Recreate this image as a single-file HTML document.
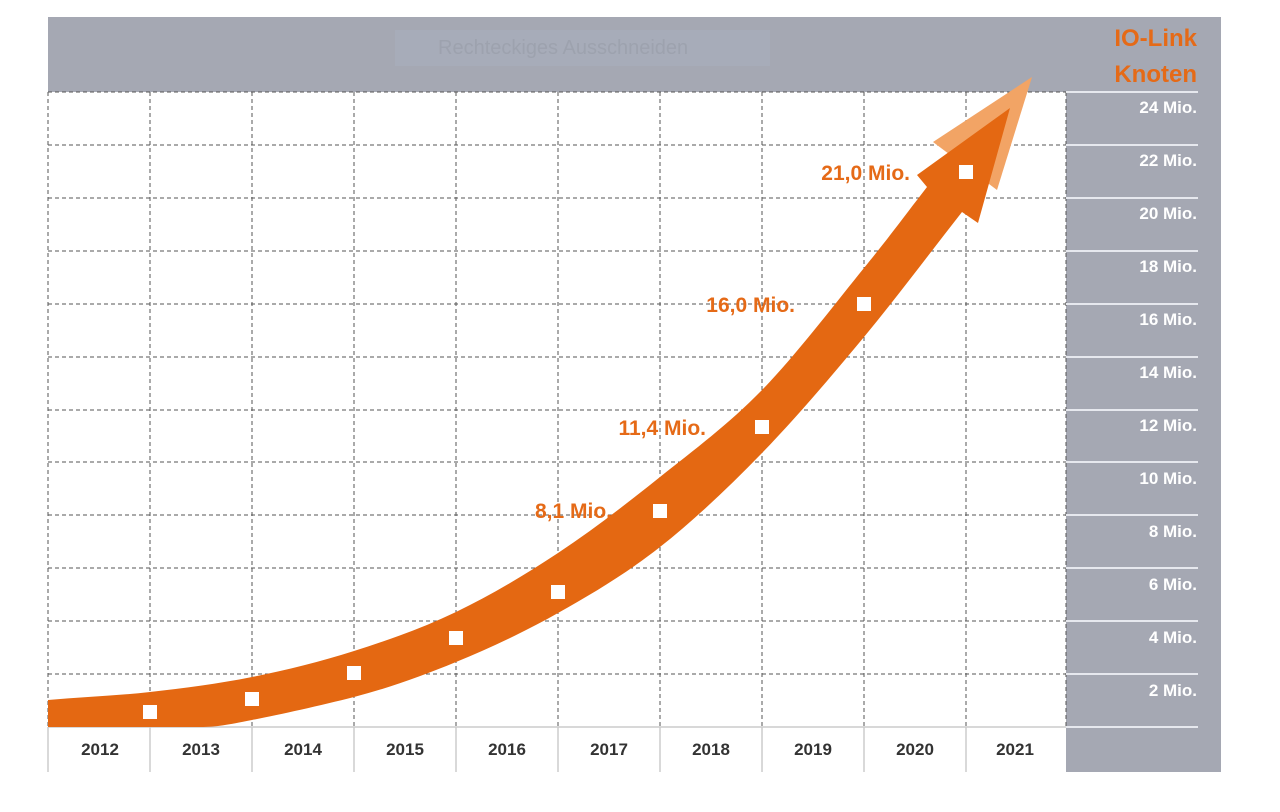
<!DOCTYPE html>
<html><head><meta charset="utf-8"><style>
body{margin:0;background:#fff;width:1280px;height:807px;overflow:hidden;font-family:"Liberation Sans",sans-serif}
</style></head><body>
<svg width="1280" height="807" viewBox="0 0 1280 807" xmlns="http://www.w3.org/2000/svg">
<rect x="48" y="17" width="1173" height="75" fill="#a5a8b3"/>
<rect x="1066" y="92" width="155" height="680" fill="#a5a8b3"/>
<rect x="395" y="30" width="375" height="36" fill="#a9afbd" opacity="0.6"/>
<text x="438" y="54" font-size="20" fill="#9da2ae" font-family="Liberation Sans, sans-serif">Rechteckiges Ausschneiden</text>
<text x="1197" y="46" font-size="24" font-weight="bold" fill="#e56a17" text-anchor="end">IO-Link</text>
<text x="1197" y="82" font-size="24" font-weight="bold" fill="#e56a17" text-anchor="end">Knoten</text>
<g stroke="#555" stroke-width="1" stroke-dasharray="4,3">
<line x1="48" y1="92" x2="1066" y2="92"/><line x1="48" y1="145" x2="1066" y2="145"/><line x1="48" y1="198" x2="1066" y2="198"/><line x1="48" y1="251" x2="1066" y2="251"/><line x1="48" y1="304" x2="1066" y2="304"/><line x1="48" y1="357" x2="1066" y2="357"/><line x1="48" y1="410" x2="1066" y2="410"/><line x1="48" y1="462" x2="1066" y2="462"/><line x1="48" y1="515" x2="1066" y2="515"/><line x1="48" y1="568" x2="1066" y2="568"/><line x1="48" y1="621" x2="1066" y2="621"/><line x1="48" y1="674" x2="1066" y2="674"/>
<line x1="48" y1="92" x2="48" y2="727"/><line x1="150" y1="92" x2="150" y2="727"/><line x1="252" y1="92" x2="252" y2="727"/><line x1="354" y1="92" x2="354" y2="727"/><line x1="456" y1="92" x2="456" y2="727"/><line x1="558" y1="92" x2="558" y2="727"/><line x1="660" y1="92" x2="660" y2="727"/><line x1="762" y1="92" x2="762" y2="727"/><line x1="864" y1="92" x2="864" y2="727"/><line x1="966" y1="92" x2="966" y2="727"/><line x1="1066" y1="92" x2="1066" y2="727"/>
</g>
<g stroke="#e6e8ee" stroke-width="2">
<line x1="1066" y1="92" x2="1198" y2="92"/><line x1="1066" y1="145" x2="1198" y2="145"/><line x1="1066" y1="198" x2="1198" y2="198"/><line x1="1066" y1="251" x2="1198" y2="251"/><line x1="1066" y1="304" x2="1198" y2="304"/><line x1="1066" y1="357" x2="1198" y2="357"/><line x1="1066" y1="410" x2="1198" y2="410"/><line x1="1066" y1="462" x2="1198" y2="462"/><line x1="1066" y1="515" x2="1198" y2="515"/><line x1="1066" y1="568" x2="1198" y2="568"/><line x1="1066" y1="621" x2="1198" y2="621"/><line x1="1066" y1="674" x2="1198" y2="674"/><line x1="1066" y1="727" x2="1198" y2="727"/>
</g>
<g stroke="#ccc" stroke-width="1.5">
<line x1="48" y1="727" x2="1066" y2="727"/>
<line x1="48" y1="727" x2="48" y2="772"/><line x1="150" y1="727" x2="150" y2="772"/><line x1="252" y1="727" x2="252" y2="772"/><line x1="354" y1="727" x2="354" y2="772"/><line x1="456" y1="727" x2="456" y2="772"/><line x1="558" y1="727" x2="558" y2="772"/><line x1="660" y1="727" x2="660" y2="772"/><line x1="762" y1="727" x2="762" y2="772"/><line x1="864" y1="727" x2="864" y2="772"/><line x1="966" y1="727" x2="966" y2="772"/>
</g>
<g font-size="17" font-weight="bold" fill="#333" text-anchor="middle">
<text x="100" y="755">2012</text><text x="201" y="755">2013</text><text x="303" y="755">2014</text><text x="405" y="755">2015</text><text x="507" y="755">2016</text><text x="609" y="755">2017</text><text x="711" y="755">2018</text><text x="813" y="755">2019</text><text x="915" y="755">2020</text><text x="1015" y="755">2021</text>
</g>
<g font-size="17" font-weight="bold" fill="#fff" text-anchor="end">
<text x="1197" y="113">24 Mio.</text><text x="1197" y="166">22 Mio.</text><text x="1197" y="219">20 Mio.</text><text x="1197" y="272">18 Mio.</text><text x="1197" y="325">16 Mio.</text><text x="1197" y="378">14 Mio.</text><text x="1197" y="431">12 Mio.</text><text x="1197" y="484">10 Mio.</text><text x="1197" y="537">8 Mio.</text><text x="1197" y="590">6 Mio.</text><text x="1197" y="643">4 Mio.</text><text x="1197" y="696">2 Mio.</text>
</g>
<polygon points="933,142 1032,77 997,190" fill="#f2a465"/>
<path d="M48,700 C82,697 116,695.8 150,692 S218,683.8 252,677 S320,661.8 354,651 S422,628.3 456,612 S524,575.5 558,553 S626,504.2 660,477 S728,424.8 762,390 S836.5,301.8 864,268 S906,214 927,187 L917,175 L1010,108 L978,223 L962,212 C929,254 897.3,296.8 864,337 S796,418 762,453 S694,520.3 660,547 S592,593.8 558,613 S490,648 456,662 S388,688.3 354,697 S277.7,715 252,720 S217,727 200,727 L48,727 Z" fill="#e46812"/>
<g fill="#fff">
<rect x="143" y="705" width="14" height="14"/><rect x="245" y="692" width="14" height="14"/><rect x="347" y="666" width="14" height="14"/><rect x="449" y="631" width="14" height="14"/><rect x="551" y="585" width="14" height="14"/><rect x="653" y="504" width="14" height="14"/><rect x="755" y="420" width="14" height="14"/><rect x="857" y="297" width="14" height="14"/><rect x="959" y="165" width="14" height="14"/>
</g>
<g font-size="21" font-weight="bold" fill="#e56a17" text-anchor="end">
<text x="910" y="180">21,0 Mio.</text><text x="795" y="312">16,0 Mio.</text><text x="706" y="435">11,4 Mio.</text><text x="612" y="518">8,1 Mio.</text>
</g>
</svg>
</body></html>
